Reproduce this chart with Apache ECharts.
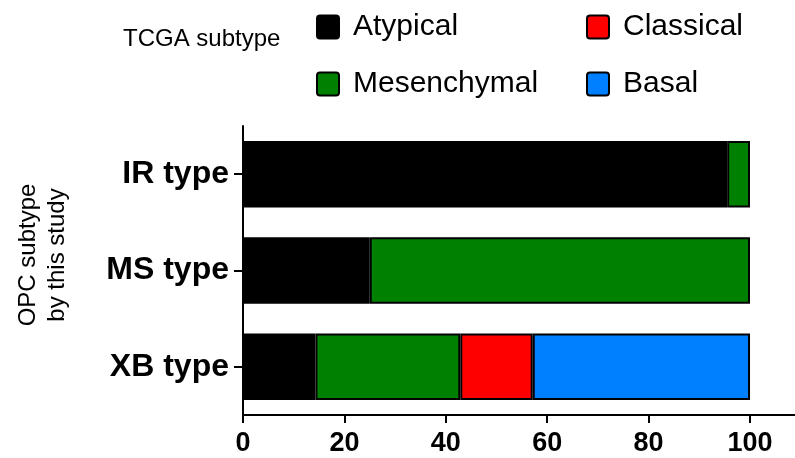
<!DOCTYPE html>
<html><head><meta charset="utf-8">
<script src="https://cdn.jsdelivr.net/npm/echarts@6/dist/echarts.min.js"></script>
<style>html,body{margin:0;padding:0;background:#fff}#c{width:795px;height:458px}</style>
</head><body><div id="c"></div>
<script>
const categories = ['IR type', 'MS type', 'XB type'];
const atypical = [95.5, 25, 14.29];
const mesenchymal = [4.5, 75, 28.57];
const classical = [null, null, 14.29];
const basal = [null, null, 42.86];
const xTicks = [0, 20, 40, 60, 80, 100];
const FONT = 'Liberation Sans, Arial, sans-serif';

const chart = echarts.init(document.getElementById('c'), null, {renderer: 'canvas'});
function mk(name, data, color) {
  return {
    name: name, type: 'bar', stack: 'a', data: data,
    barCategoryGap: '31%',
    itemStyle: {color: color, borderColor: '#000', borderWidth: 2},
    emphasis: {disabled: true}
  };
}
const ICON = 'path://M3,0 H19 Q22,0 22,3 V20 Q22,23 19,23 H3 Q0,23 0,20 V3 Q0,0 3,0 Z';
const legendText = {fontFamily: FONT, fontSize: 30, lineHeight: 30, color: '#000', padding: [0, 0, 0, 9]};
chart.setOption({
  animation: false,
  title: {text: 'TCGA subtype', left: 123, top: 27, padding: 0,
    textStyle: {fontFamily: FONT, fontSize: 24, fontWeight: 'normal', color: '#000'}},
  legend: [
    {data: ['Atypical', 'Mesenchymal'], orient: 'vertical', left: 316, top: 12, padding: 0,
     itemWidth: 22, itemHeight: 23, itemGap: 27, icon: ICON, textStyle: legendText,
     selectedMode: false},
    {data: ['Classical', 'Basal'], orient: 'vertical', left: 586, top: 12, padding: 0,
     itemWidth: 22, itemHeight: 23, itemGap: 27, icon: ICON, textStyle: legendText,
     selectedMode: false}
  ],
  graphic: [{
    type: 'text', x: 43, y: 255, rotation: Math.PI / 2,
    style: {text: 'OPC subtype\nby this study', fontFamily: FONT, fontSize: 24, lineHeight: 29,
      fill: '#000', align: 'center', verticalAlign: 'middle'}
  }],
  grid: {left: 243, right: 0, top: 126, bottom: 43, containLabel: false},
  xAxis: {
    type: 'value', min: 0, max: 108.88, interval: 20,
    splitLine: {show: false},
    axisLine: {show: true, lineStyle: {color: '#000', width: 2}},
    axisTick: {show: true, length: 8, customValues: xTicks, lineStyle: {color: '#000', width: 2}},
    axisLabel: {customValues: xTicks, fontFamily: FONT, fontSize: 27, fontWeight: 'bold', color: '#000', margin: 15}
  },
  yAxis: {
    type: 'category', data: categories, inverse: true,
    axisLine: {show: true, lineStyle: {color: '#000', width: 2}},
    axisTick: {show: true, alignWithLabel: true, length: 9, lineStyle: {color: '#000', width: 2}},
    axisLabel: {fontFamily: FONT, fontSize: 32, fontWeight: 'bold', color: '#000', margin: 14}
  },
  series: [
    mk('Atypical', atypical, '#000000'),
    mk('Mesenchymal', mesenchymal, '#008000'),
    mk('Classical', classical, '#ff0000'),
    mk('Basal', basal, '#0080ff')
  ]
});
</script></body></html>
